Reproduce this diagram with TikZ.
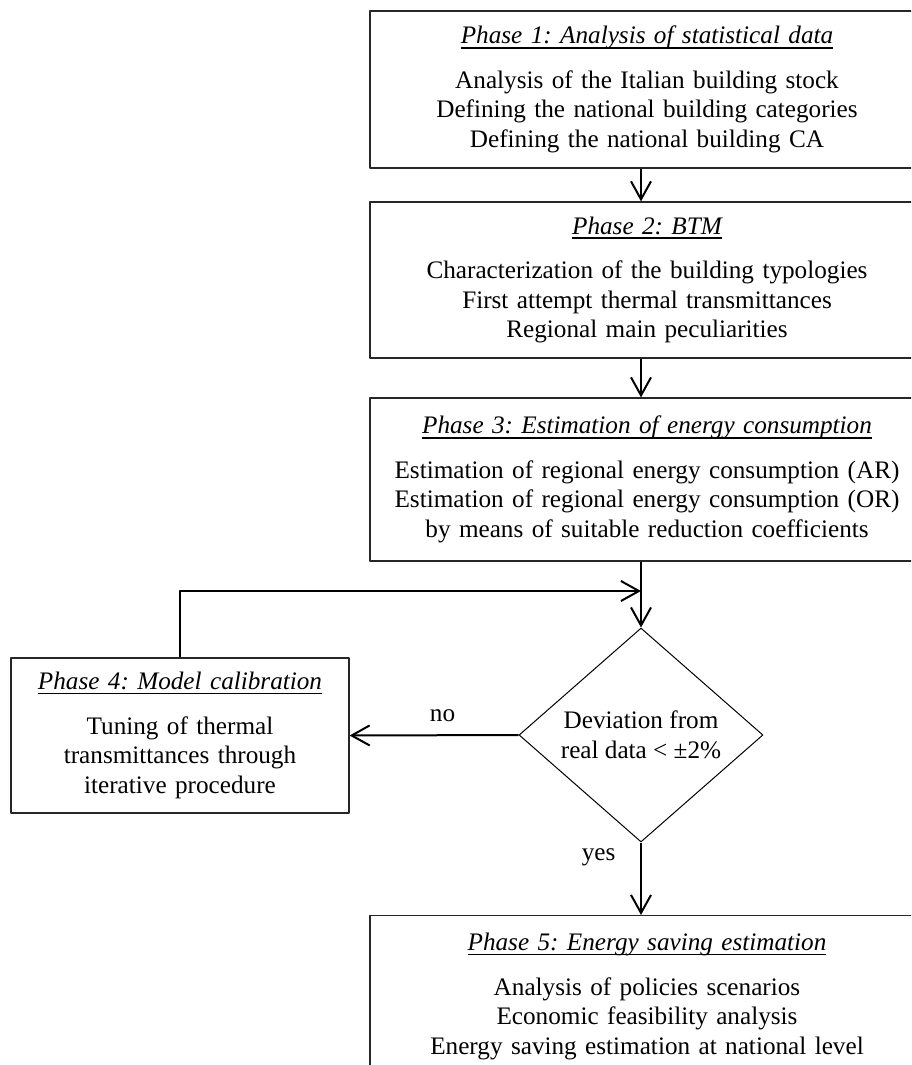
\documentclass[tikz,border=0pt]{standalone}
\usepackage{fontspec}
\setmainfont{Liberation Serif}
\usetikzlibrary{arrows.meta, shapes.geometric, positioning}
\frenchspacing

% underlined italic heading of a phase
\newcommand{\phasetitle}[1]{\setbox0=\hbox{\itshape #1}\rlap{\rule[-2.3pt]{\wd0}{0.8pt}}\box0}

\tikzset{
  every node/.style={font=\fontsize{12.6pt}{14.75pt}\selectfont},
  phase/.style={draw=black!85, line width=0.6pt, align=center, inner sep=0pt},
  decision/.style={diamond, draw, line width=0.5pt, aspect=1.14, minimum width=122pt, minimum height=107pt, inner sep=0pt, align=center},
  conn/.style={->, line width=1pt}
}

\begin{document}
\begin{tikzpicture}[line cap=butt,line join=round,>={Straight Barb[length=9pt,width=10pt]},x=0.5pt,y=-0.5pt]
\useasboundingbox (0,0) rectangle (911,1065);
\clip (0,0) rectangle (911,1065);

\node[phase, text width=277pt, minimum height=78.5pt] (p1) at (647,89.5) {\phasetitle{Phase 1: Analysis of statistical data}\\[7.5pt]
  Analysis of the Italian building stock\\
  Defining the national building categories\\
  Defining the national building CA};

\node[phase, text width=277pt, minimum height=78pt] (p2) at (647,280) {\phasetitle{Phase 2: BTM}\\[7.5pt]
  Characterization of the building typologies\\
  First attempt thermal transmittances\\
  Regional main peculiarities};

\node[phase, text width=277pt, minimum height=81.5pt] (p3) at (647,479.5) {\phasetitle{Phase 3: Estimation of energy consumption}\\[7.5pt]
  Estimation of regional energy consumption (AR)\\
  Estimation of regional energy consumption (OR)\\
  by means of suitable reduction coefficients};

\node[decision] (dev) at (641,735) {Deviation from\\real data < ±2\%};

\node[phase, text width=169pt, minimum height=77.5pt] (p4) at (180,735.5) {\phasetitle{Phase 4: Model calibration}\\[7.5pt]
  Tuning of thermal\\
  transmittances through\\
  iterative procedure};

\node[phase, text width=277pt, minimum height=81pt, anchor=north] (p5) at (647,915) {\phasetitle{Phase 5: Energy saving estimation}\\[7.5pt]
  Analysis of policies scenarios\\
  Economic feasibility analysis\\
  Energy saving estimation at national level};

\coordinate (back) at (641,591);

\draw[conn] (p1.south -| dev) -- (p2.north -| dev);
\draw[conn] (p2.south -| dev) -- (p3.north -| dev);
\draw[conn] (p3.south -| dev) -- (dev.north);
\draw[conn] (p4.north) |- (back);
\draw[conn] (dev.west) -- node[above=3pt, pos=0.45] {no} (p4.east);
\draw[conn] (dev.south) -- node[left=9pt, pos=0.2] {yes} (p5.north -| dev);

\end{tikzpicture}
\end{document}
